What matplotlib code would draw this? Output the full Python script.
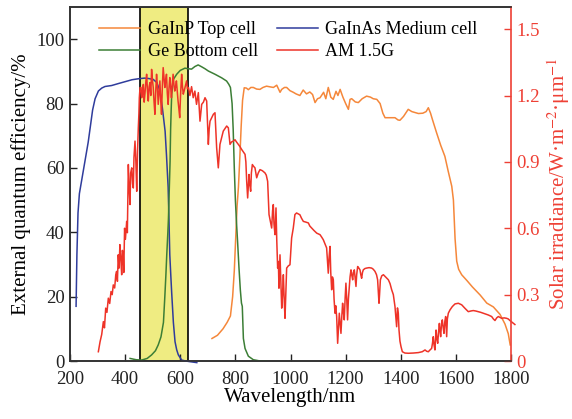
import matplotlib
matplotlib.use("Agg")
import matplotlib.pyplot as plt

plt.rcParams["font.family"] = ["Liberation Serif", "DejaVu Serif"]
plt.rcParams["mathtext.fontset"] = "stix"

# EQE curves (wavelength nm, EQE %)
top_wl = [715, 735, 755, 770, 782, 790, 796, 801, 806, 811, 816, 821, 826, 832, 840, 847, 856, 865,
          877, 889, 900, 913, 925, 938, 950, 962, 968, 978, 986, 998, 1010, 1020, 1034, 1046, 1058,
          1070, 1080, 1089, 1098, 1107, 1120, 1128, 1137, 1146, 1155, 1165, 1172, 1180, 1190, 1200,
          1210, 1216, 1222, 1235, 1246, 1260, 1276, 1290, 1300, 1313, 1325, 1335, 1343, 1360, 1379,
          1390, 1397, 1410, 1427, 1440, 1464, 1480, 1492, 1500, 1508, 1515, 1530, 1545, 1560, 1572,
          1585, 1591, 1597, 1603, 1610, 1621, 1640, 1660, 1688, 1712, 1736, 1760, 1778, 1790, 1797]
top_eqe = [7, 8, 10, 12, 14, 20, 28, 38, 48, 54, 63, 73, 81, 84.9, 84.8, 84.3, 85, 85,
           84.5, 84.4, 85, 85.4, 85.2, 85, 85.7, 83.5, 84.4, 85, 85, 84, 83.5, 83, 82.5, 84.2, 83,
           83.6, 82.8, 80.3, 81.5, 81.8, 83.5, 81.5, 85, 82, 81.3, 83.8, 82.5, 84.4, 82, 80,
           78.2, 81.3, 81.5, 80.5, 80.3, 81.5, 82.3, 82, 81.5, 81.3, 80, 77, 75.6, 75.6, 75.6,
           74.9, 74.8, 76, 78.2, 77.5, 76.9, 77, 77.5, 78.7, 77, 75, 70.9, 67, 63.6, 59,
           54.3, 50, 38, 31, 28.5, 26.8, 25, 23, 20.5, 18, 16.8, 14.5, 11.5, 8.5, 5]

mid_wl = [222, 225, 229, 234, 242, 250, 258, 266, 274, 282, 291, 303, 315, 327, 351, 375, 400, 425,
          448, 470, 484, 502, 515, 526, 535, 545, 550, 556, 559, 562, 566, 569, 575, 581, 587, 593,
          605, 620, 635, 660]
mid_eqe = [17, 33, 46, 52, 56, 60, 64, 68, 73, 78, 81.5, 83.9, 84.8, 85.3, 85.6, 86.2, 86.8, 87.4,
           87.7, 87.9, 87.8, 87.5, 86.5, 84, 78.7, 71.4, 64, 54, 44, 33, 26, 21, 12, 6, 3.5, 1.9,
           0.3, 0, -0.2, -0.5]

bot_wl = [418, 440, 460, 480, 496, 510, 520, 530, 539, 544, 548, 551, 555, 557, 560, 563, 565, 567,
          569, 575, 587, 600, 617, 630, 641, 653, 665, 678, 690, 702, 726, 750, 768, 776, 782, 788,
          792, 796, 800, 804, 808, 813, 818, 822, 825, 829, 835, 847, 865, 890, 913]
bot_eqe = [0.8, 0.4, 0.3, 0.8, 1.9, 3.2, 5, 7.5, 12, 20, 27, 33, 40, 44, 53, 62, 72, 78,
           83, 87.5, 89.1, 90.3, 91, 90.8, 90.7, 91.5, 92, 91.4, 90.8, 90.1, 89.1, 88, 87, 86, 85, 80,
           72, 60, 50, 43, 37, 29, 22, 18, 17, 7, 3.9, 1.5, 0.4, 0, 0]

# AM 1.5G spectrum (wavelength nm, irradiance W m-2 um-1)
am_wl = [302.8, 309, 315, 321, 325, 329.5, 334, 339, 344, 348.7, 353, 357, 362, 366, 369, 372, 375,
         378, 381, 384, 387.5, 390, 393, 395, 398, 401, 405.6, 408, 411.6, 414, 417.7, 420, 424, 427,
         429.7, 432, 435.8, 439, 442, 445, 447.8, 450, 451.5, 454, 457.6, 460, 462.4, 466, 469, 472,
         475, 478, 481, 484, 487, 490, 493, 496, 499, 502, 505, 508, 511, 514, 517, 520, 523, 526,
         529, 532, 535, 538, 541, 544, 547, 550, 553, 556, 559, 562, 565, 568, 571, 574, 577, 580,
         583, 586, 589, 592, 595, 598, 601, 605, 608, 611, 614, 617, 620, 623, 626, 630, 635, 641,
         647, 653, 659, 665.6, 671.6, 677.7, 684, 689.8, 695.8, 701.9, 705, 708, 714, 720, 726, 732,
         738, 744, 750, 756, 762, 768.4, 774.4, 780.5, 786, 792.5, 798.6, 804, 810.7, 816, 822.8,
         829, 835, 838, 841, 844.5, 849.4, 852, 855.4, 858, 861.5, 866, 871, 877.2, 883, 889.3, 898,
         907.4, 912, 917, 922, 927, 931.6, 935, 937.6, 940, 943.7, 947.3, 950, 953.3, 956, 958,
         961.8, 965, 968, 971, 974, 977, 980, 983, 986, 992, 998, 1004, 1010, 1016, 1022, 1028,
         1034, 1040, 1046.5, 1055, 1064.7, 1070, 1076.8, 1085, 1095, 1107, 1113, 1119, 1125, 1131,
         1134, 1137, 1140, 1143.3, 1146, 1149.3, 1152, 1155.3, 1158, 1161.4, 1164, 1167.4, 1169,
         1171, 1174, 1177, 1180, 1183, 1186, 1189, 1192, 1195, 1198, 1201, 1204, 1207, 1210, 1213.4,
         1216, 1219.4, 1222, 1225.5, 1228, 1231.5, 1234, 1237.5, 1240, 1243.6, 1248, 1252, 1255,
         1258, 1261, 1264, 1270, 1276, 1285, 1294.4, 1300, 1306.5, 1312, 1316, 1319, 1321, 1323,
         1326, 1331, 1337, 1345, 1355, 1361, 1367, 1373, 1379, 1382, 1385, 1388, 1391, 1393.6, 1397,
         1400.9, 1405.7, 1415, 1427.5, 1445, 1463.7, 1478, 1488, 1494, 1500, 1506, 1512, 1515, 1518,
         1521, 1524, 1528, 1531, 1534, 1537, 1540, 1542, 1544.7, 1548, 1550.8, 1554, 1556.8, 1560,
         1562.9, 1565, 1566.5, 1569, 1572.5, 1578.6, 1587, 1596.7, 1608.8, 1621, 1633, 1645, 1654,
         1663, 1672, 1681.4, 1690, 1699.5, 1708, 1717.6, 1729.7, 1736, 1741.8, 1748, 1754, 1760,
         1766, 1775, 1784, 1790, 1796, 1802, 1808, 1814]
am_irr = [0.042, 0.087, 0.12, 0.178, 0.15, 0.239, 0.22, 0.284, 0.26, 0.314, 0.30, 0.344, 0.33, 0.39,
          0.405, 0.36, 0.48, 0.42, 0.526, 0.47, 0.39, 0.50, 0.48, 0.40, 0.60, 0.55, 0.631, 0.58,
          0.888, 0.80, 0.707, 0.85, 0.873, 0.80, 0.782, 0.92, 0.994, 0.90, 0.767, 0.95, 1.054, 1.12,
          1.19, 1.236, 1.236, 1.19, 1.205, 1.25, 1.17, 1.21, 1.26, 1.296, 1.22, 1.175, 1.24, 1.258,
          1.20, 1.318, 1.27, 1.236, 1.17, 1.115, 1.22, 1.296, 1.24, 1.16, 1.21, 1.266, 1.18, 1.115,
          1.24, 1.326, 1.28, 1.236, 1.27, 1.296, 1.21, 1.16, 1.23, 1.281, 1.24, 1.19, 1.25, 1.296,
          1.25, 1.22, 1.24, 1.266, 1.22, 1.175, 1.14, 1.10, 1.20, 1.296, 1.24, 1.206, 1.22, 1.236,
          1.25, 1.266, 1.23, 1.236, 1.20, 1.24, 1.19, 1.22, 1.16, 1.213, 1.084, 1.16, 1.17, 1.19,
          1.175, 0.979, 1.05, 1.084, 1.10, 1.115, 1.122, 0.964, 0.873, 0.979, 1.01, 1.039, 1.05,
          1.062, 1.054, 0.979, 0.99, 0.994, 1.0, 0.99, 0.979, 0.97, 0.956, 0.945, 0.934, 0.90, 0.812,
          0.737, 0.843, 0.80, 0.767, 0.85, 0.888, 0.88, 0.873, 0.828, 0.85, 0.865, 0.86, 0.85, 0.84,
          0.812, 0.662, 0.63, 0.601, 0.68, 0.707, 0.62, 0.571, 0.692, 0.55, 0.42, 0.45, 0.329, 0.48,
          0.35, 0.239, 0.30, 0.39, 0.28, 0.193, 0.30, 0.42, 0.43, 0.435, 0.556, 0.601, 0.662, 0.669,
          0.665, 0.661, 0.645, 0.631, 0.628, 0.624, 0.61, 0.601, 0.59, 0.578, 0.571, 0.56, 0.548,
          0.53, 0.511, 0.45, 0.397, 0.47, 0.518, 0.40, 0.322, 0.38, 0.367, 0.28, 0.216, 0.25, 0.201,
          0.15, 0.08, 0.15, 0.216, 0.17, 0.125, 0.20, 0.261, 0.22, 0.186, 0.28, 0.352, 0.28, 0.186,
          0.28, 0.337, 0.38, 0.412, 0.39, 0.367, 0.40, 0.412, 0.38, 0.337, 0.39, 0.427, 0.42, 0.412,
          0.39, 0.374, 0.40, 0.412, 0.418, 0.42, 0.422, 0.42, 0.415, 0.405, 0.39, 0.367, 0.30, 0.261,
          0.30, 0.367, 0.385, 0.39, 0.38, 0.367, 0.35, 0.322, 0.30, 0.246, 0.20, 0.155, 0.24, 0.216,
          0.14, 0.09, 0.065, 0.042, 0.036, 0.035, 0.036, 0.038, 0.042, 0.05, 0.044, 0.042, 0.05,
          0.057, 0.08, 0.11, 0.07, 0.05, 0.14, 0.10, 0.08, 0.13, 0.17, 0.14, 0.11, 0.17, 0.186, 0.15,
          0.125, 0.18, 0.201, 0.15, 0.11, 0.19, 0.216, 0.231, 0.246, 0.258, 0.261, 0.254, 0.238,
          0.223, 0.226, 0.228, 0.226, 0.223, 0.22, 0.216, 0.212, 0.208, 0.201, 0.19, 0.183, 0.195,
          0.201, 0.197, 0.193, 0.195, 0.193, 0.19, 0.183, 0.177, 0.171, 0.165]

band = (455, 628)
x_ticks = [200, 400, 600, 800, 1000, 1200, 1400, 1600, 1800]
left_ticks = [0, 20, 40, 60, 80, 100]
right_ticks = [0, 0.3, 0.6, 0.9, 1.2, 1.5]
right_labels = ["0", "0.3", "0.6", "0.9", "1.2", "1.5"]

ORANGE = "#F5873A"
BLUE = "#2F3C9C"
GREEN = "#3C7E36"
RED = "#EE3328"
AXRED = "#EE4035"

fig = plt.figure(figsize=(5.72, 4.19), dpi=100)
ax = fig.add_axes([0.1224, 0.1384, 0.771, 0.8449])
ax2 = ax.twinx()

ax.axvspan(*band, facecolor="#EFEC82", edgecolor="black", lw=1.2, zorder=1)
l1, = ax.plot(top_wl, top_eqe, color=ORANGE, lw=1.1, label="GaInP Top cell", zorder=3)
l2, = ax.plot(mid_wl, mid_eqe, color=BLUE, lw=1.1, label="GaInAs Medium cell", zorder=3, clip_on=False)
l3, = ax.plot(bot_wl, bot_eqe, color=GREEN, lw=1.1, label="Ge Bottom cell", zorder=3)
l4, = ax2.plot(am_wl, am_irr, color=RED, lw=1.1, label="AM 1.5G", clip_on=False)

ax.set_xlim(200, 1800); ax.set_ylim(0, 110)
ax2.set_ylim(0, 1.6)
ax.set_xticks(x_ticks); ax.set_yticks(left_ticks)
ax2.set_yticks(right_ticks); ax2.set_yticklabels(right_labels)

ax.tick_params(direction="in", length=5, width=1, labelsize=13.5, colors="#222222", pad=4)
ax.tick_params(axis="x", top=False, pad=7)
ax2.tick_params(direction="in", length=5, width=1, labelsize=13.5, colors=AXRED, pad=4)
for s in ["left", "top", "bottom"]:
    ax.spines[s].set_color("#333333"); ax.spines[s].set_linewidth(1.2)
    ax2.spines[s].set_color("#333333"); ax2.spines[s].set_linewidth(1.2)
ax2.spines["right"].set_color(AXRED); ax2.spines["right"].set_linewidth(1.2)
ax.spines["right"].set_visible(False)

ax.set_xlabel("Wavelength/nm", fontsize=15, labelpad=0)
ax.set_ylabel("External quantum efficiency/%", fontsize=15, labelpad=4)
ax2.set_ylabel("Solar irradiance/W·m$^{-2}$·μm$^{-1}$", fontsize=15, color=AXRED, labelpad=4)

# ncol=2 fills column by column, so order the handles to get the reference rows
order = [l1, l3, l2, l4]
ax2.legend(order, [l.get_label() for l in order], ncol=2, frameon=False,
           fontsize=13, loc="upper left", bbox_to_anchor=(0.045, 0.985), borderpad=0,
           handlelength=2.3, handletextpad=0.4, columnspacing=1.05, labelspacing=0.25)

fig.savefig("out.png", dpi=100)
